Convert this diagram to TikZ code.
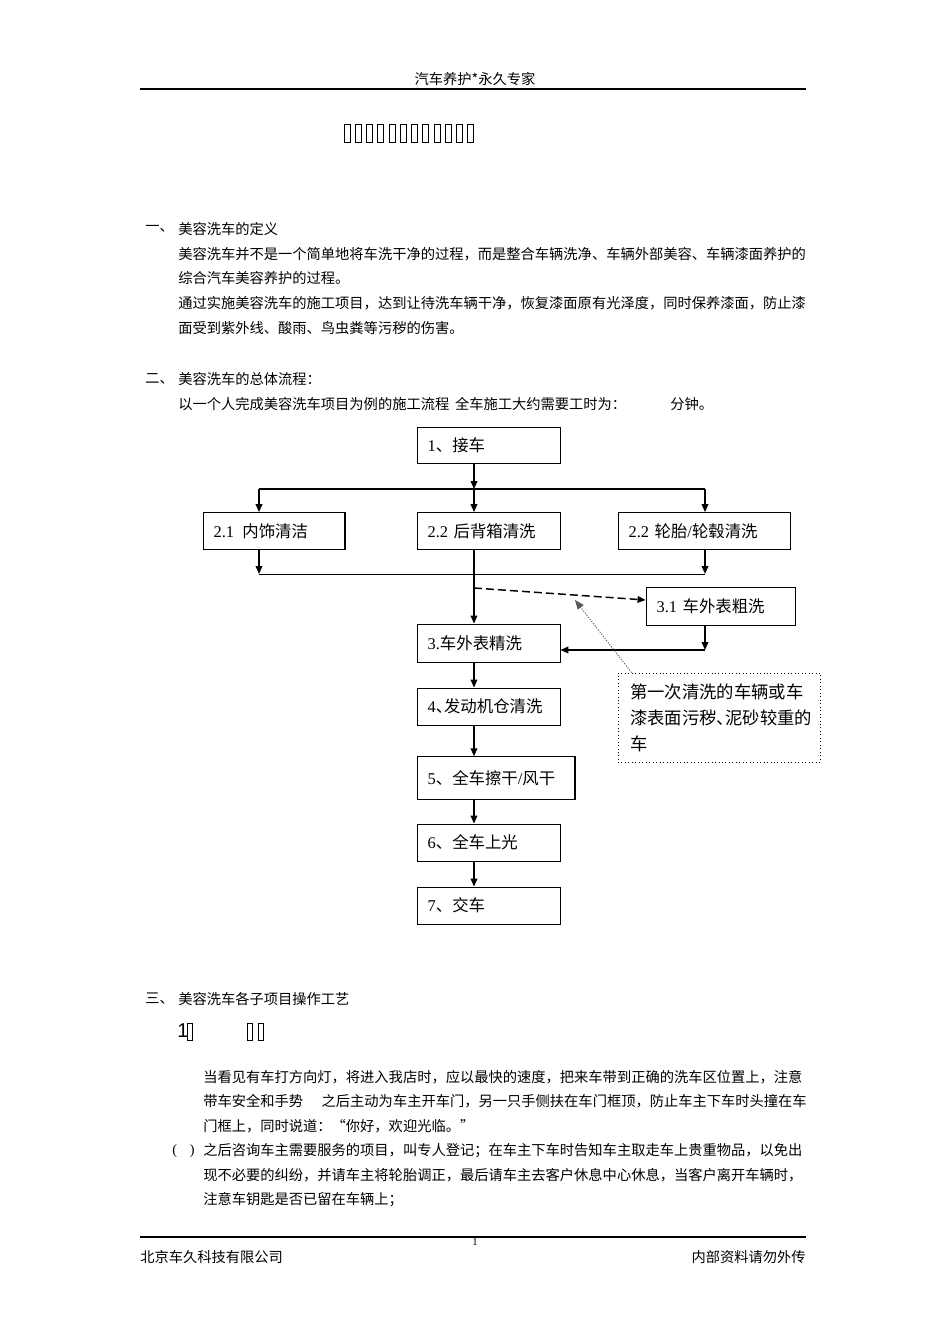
\documentclass[tikz,border=0pt]{standalone}
\usepackage{fontspec}
\setmainfont{Liberation Serif}
\newfontfamily\cjk{Noto Sans CJK SC}
\newfontfamily\sans{Liberation Sans}
\usetikzlibrary{arrows.meta,positioning}
\newcommand\bodyfnt{\cjk\fontsize{10.7}{12}\selectfont}
\newcommand\boxfnt{\cjk\fontsize{12.3}{14}\selectfont}
\newcommand\lat[1]{{\rmfamily #1}}
\newcommand\halfdun{\makebox[0.5em][l]{、}}

\begin{document}
\begin{tikzpicture}[x=0.75pt,y=-0.75pt]
        % Styles
        \tikzset{
            box/.style={rectangle, draw, line width=0.6pt, inner xsep=8pt, inner ysep=0pt,
                        text width=#1, align=left, font=\boxfnt},
            arrow/.style={-{Triangle[length=6pt,width=5pt]}, line width=1.1pt},
            txt/.style={anchor=west, inner sep=0pt, font=\bodyfnt},
            rule/.style={line width=1.5pt},
            tofu/.style={line width=0.5pt}
        }
        \fill[white] (0,0) rectangle (950,1344);
        \useasboundingbox (0,0) rectangle (950,1344);

        % En-tete et titre
        \node[txt, anchor=center] (head) at (475,79) {汽车养护*永久专家};
        \draw[rule] (140,89) -- (806,89);
        \foreach \i in {0,...,11}
            \draw[tofu] (344+\i*11.25,124) rectangle ++(6,18);

        % Partie un
        \node[txt] (n1) at (145,229) {一、};
        \node[txt] (s1) at (178,229) {美容洗车的定义};
        \node[txt] (p1a) at (178,254) {美容洗车并不是一个简单地将车洗干净的过程，而是整合车辆洗净、车辆外部美容、车辆漆面养护的};
        \node[txt] (p1b) at (178,278) {综合汽车美容养护的过程。};
        \node[txt] (p1c) at (178,303) {通过实施美容洗车的施工项目，达到让待洗车辆干净，恢复漆面原有光泽度，同时保养漆面，防止漆};
        \node[txt] (p1d) at (178,328) {面受到紫外线、酸雨、鸟虫粪等污秽的伤害。};

        % Partie deux
        \node[txt] (n2) at (145,379) {二、};
        \node[txt] (s2) at (178,379) {美容洗车的总体流程：};
        \node[txt] (p2a) at (178,404) {以一个人完成美容洗车项目为例的施工流程\hspace{0.4em}全车施工大约需要工时为：};
        \node[txt] (p2b) at (670,404) {分钟。};

        % Organigramme
        \node[box=91.25pt, minimum height=27pt] (b1) at (488.5,445) {\lat{1}、接车};
        \node[box=90.5pt, minimum height=27.75pt] (b21) at (274,531) {\lat{2.1}\hspace{0.5em}内饰清洁};
        \node[box=91.25pt, minimum height=27.75pt] (b22) at (488.5,531) {\lat{2.2} 后背箱清洗};
        \node[box=113pt, minimum height=27.75pt] (b23) at (704,531) {\lat{2.2} 轮胎\lat{/}轮毂清洗};
        \node[box=95.75pt, minimum height=28.5pt] (b31) at (720.5,606) {\lat{3.1} 车外表粗洗};
        \node[box=91.25pt, minimum height=28.5pt] (b3) at (488.5,643) {\lat{3.}车外表精洗};
        \node[box=91.25pt, minimum height=27.75pt] (b4) at (488.5,706.5) {\lat{4}\halfdun 发动机仓清洗};
        \node[box=102.5pt, minimum height=32pt] (b5) at (496,778) {\lat{5}、全车擦干\lat{/}风干};
        \node[box=91.25pt, minimum height=27.75pt] (b6) at (488.5,842.5) {\lat{6}、全车上光};
        \node[box=91.25pt, minimum height=27.75pt] (b7) at (488.5,905.5) {\lat{7}、交车};
        \node[box=133.5pt, minimum height=66.75pt, dotted, inner xsep=9pt,
              font=\cjk\fontsize{13}{19.5}\selectfont] (note) at (719,717.5)
              {第一次清洗的车辆或车\\漆表面污秽\halfdun 泥砂较重的\\车};
        \draw[line width=1.5pt] (b21.north east) -- (b21.south east);
        \draw[line width=1.5pt] (b5.north east) -- (b5.south east);

        % Connexions
        \coordinate (jL) at (259,489);
        \coordinate (jM) at (474,489);
        \coordinate (jR) at (705,489);
        \coordinate (kL) at (259,574);
        \coordinate (kR) at (705,574);
        \coordinate (r) at (705,650);
        \coordinate (d0) at (474,588);
        \coordinate (tip) at (575,600);
        \draw[arrow] (b1.south -| jM) -- (jM);
        \draw[line width=1.6pt] (jL) -- (jR);
        \foreach \j/\b in {jL/b21, jM/b22, jR/b23}
            \draw[arrow] (\j) -- (\j |- \b.north);
        \draw[arrow] (b21.south -| kL) -- (kL);
        \draw[arrow] (b23.south -| kR) -- (kR);
        \draw[line width=0.7pt] (kL) -- (kR);
        \draw[arrow] (b22.south -| jM) -- (b3.north -| jM);
        \draw[arrow, dash pattern=on 6pt off 3pt] (d0) -- ([yshift=4.5pt]b31.west);
        \draw[arrow] (b31.south -| r) -- (r);
        \draw[arrow, line width=1.3pt] (r) -- (b3.east |- r);
        \draw[-{Triangle[length=7pt,width=5.5pt]}, gray!70!black, line width=0.6pt,
              dash pattern=on 1pt off 1pt] ([xshift=10.5pt]note.north west) -- (tip);
        \foreach \a/\b in {b3/b4, b4/b5, b5/b6, b6/b7}
            \draw[arrow] (\a.south -| jM) -- (\b.north -| jM);

        % Partie trois
        \node[txt] (n3) at (145,999) {三、};
        \node[txt] (s3) at (178,999) {美容洗车各子项目操作工艺};
        \node[anchor=west, inner sep=0pt, font=\sans\fontsize{15}{15}\selectfont] (one) at (177,1031) {1};
        \draw[tofu] (187,1023) rectangle ++(5,17);
        \draw[tofu] (247,1023) rectangle ++(5,17);
        \draw[tofu] (258,1023) rectangle ++(5,17);
        \node[txt] (p3a) at (203,1077) {当看见有车打方向灯，将进入我店时，应以最快的速度，把来车带到正确的洗车区位置上，注意};
        \node[txt] (p3b) at (203,1101) {带车安全和手势\hspace{1.3em}之后主动为车主开车门，另一只手侧扶在车门框顶，防止车主下车时头撞在车};
        \node[txt] (p3c) at (203,1126) {门框上，同时说道：“你好，欢迎光临。”};
        \node[txt] (par) at (172,1151) {\lat{(\hspace{0.9em})}};
        \node[txt] (p3d) at (203,1151) {之后咨询车主需要服务的项目，叫专人登记；在车主下车时告知车主取走车上贵重物品，以免出};
        \node[txt] (p3e) at (203,1175) {现不必要的纠纷，并请车主将轮胎调正，最后请车主去客户休息中心休息，当客户离开车辆时，};
        \node[txt] (p3f) at (203,1200) {注意车钥匙是否已留在车辆上；};

        % Pied de page
        \draw[line width=2.2pt] (140,1237) -- (806,1237);
        \node[inner sep=0pt, font=\fontsize{8}{8}\selectfont] (pg) at (475,1242) {1};
        \node[txt] (f1) at (140,1257) {北京车久科技有限公司};
        \node[txt, anchor=east] (f2) at (806,1257) {内部资料请勿外传};
\end{tikzpicture}
\end{document}
